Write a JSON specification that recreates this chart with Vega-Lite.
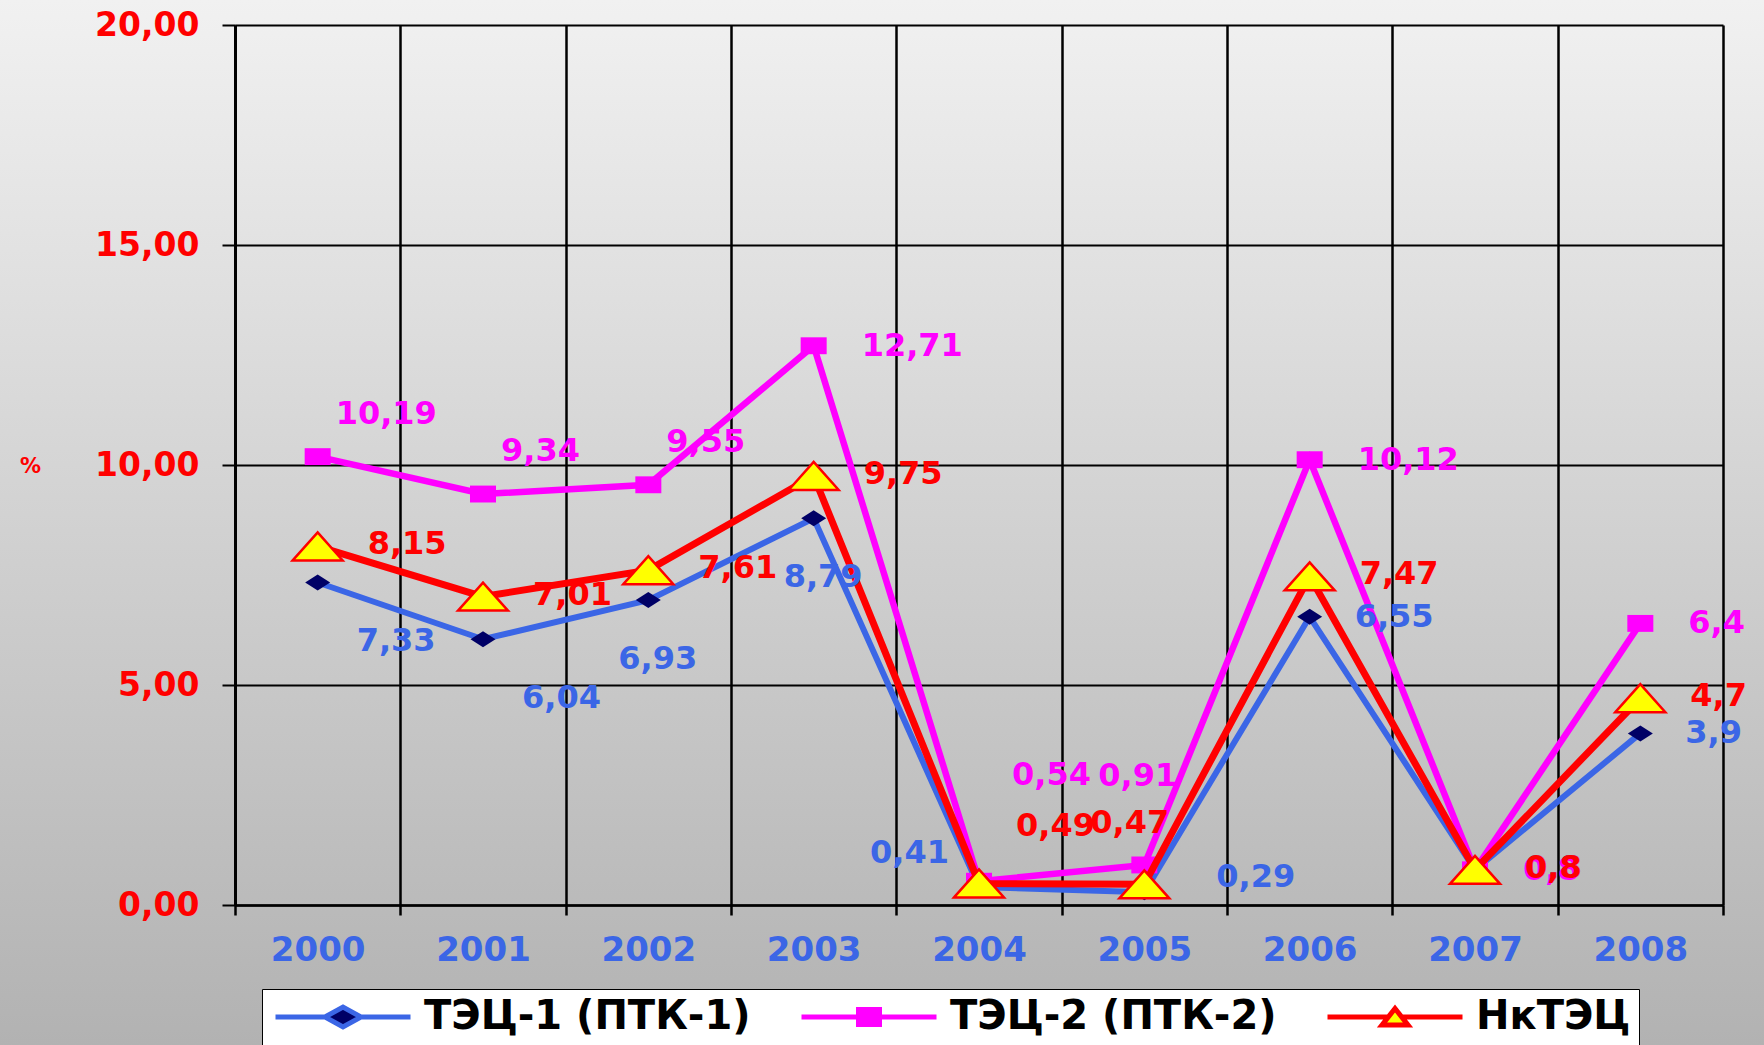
{
  "$schema": "https://vega.github.io/schema/vega-lite/v6.json",
  "width": 1764,
  "height": 1045,
  "autosize": {"type": "none"},
  "padding": 0,
  "background": "#d4d4d4",
  "config": {
    "view": {
      "stroke": null,
      "fill": {"gradient": "linear", "x1": 0, "y1": 0, "x2": 0, "y2": 1,
        "stops": [{"offset": 0, "color": "#f1f1f1"}, {"offset": 1, "color": "#b2b2b2"}]}
    }
  },
  "data": {
    "values": [
      {"year": "2000", "series": "ТЭЦ-1 (ПТК-1)", "value": 7.33},
      {"year": "2001", "series": "ТЭЦ-1 (ПТК-1)", "value": 6.04},
      {"year": "2002", "series": "ТЭЦ-1 (ПТК-1)", "value": 6.93},
      {"year": "2003", "series": "ТЭЦ-1 (ПТК-1)", "value": 8.79},
      {"year": "2004", "series": "ТЭЦ-1 (ПТК-1)", "value": 0.41},
      {"year": "2005", "series": "ТЭЦ-1 (ПТК-1)", "value": 0.29},
      {"year": "2006", "series": "ТЭЦ-1 (ПТК-1)", "value": 6.55},
      {"year": "2007", "series": "ТЭЦ-1 (ПТК-1)", "value": 0.8},
      {"year": "2008", "series": "ТЭЦ-1 (ПТК-1)", "value": 3.9},
      {"year": "2000", "series": "ТЭЦ-2 (ПТК-2)", "value": 10.19},
      {"year": "2001", "series": "ТЭЦ-2 (ПТК-2)", "value": 9.34},
      {"year": "2002", "series": "ТЭЦ-2 (ПТК-2)", "value": 9.55},
      {"year": "2003", "series": "ТЭЦ-2 (ПТК-2)", "value": 12.71},
      {"year": "2004", "series": "ТЭЦ-2 (ПТК-2)", "value": 0.54},
      {"year": "2005", "series": "ТЭЦ-2 (ПТК-2)", "value": 0.91},
      {"year": "2006", "series": "ТЭЦ-2 (ПТК-2)", "value": 10.12},
      {"year": "2007", "series": "ТЭЦ-2 (ПТК-2)", "value": 0.8},
      {"year": "2008", "series": "ТЭЦ-2 (ПТК-2)", "value": 6.4},
      {"year": "2000", "series": "НкТЭЦ", "value": 8.15},
      {"year": "2001", "series": "НкТЭЦ", "value": 7.01},
      {"year": "2002", "series": "НкТЭЦ", "value": 7.61},
      {"year": "2003", "series": "НкТЭЦ", "value": 9.75},
      {"year": "2004", "series": "НкТЭЦ", "value": 0.49},
      {"year": "2005", "series": "НкТЭЦ", "value": 0.47},
      {"year": "2006", "series": "НкТЭЦ", "value": 7.47},
      {"year": "2007", "series": "НкТЭЦ", "value": 0.8},
      {"year": "2008", "series": "НкТЭЦ", "value": 4.7}
    ]
  },
  "transform": [{"calculate": "replace(toString(datum.value), '.', ',')", "as": "label"}],
  "encoding": {
    "y": {
      "field": "value", "type": "quantitative",
      "scale": {"domain": [0, 20], "nice": false, "range": [905, 25]},
      "axis": {
        "title": "%", "offset": -235, "titleAngle": 0, "titleX": -205, "titleY": 466, "titleAlign": "center", "titleBaseline": "middle",
        "titleFont": "DejaVu Sans", "titleFontWeight": "bold", "titleFontSize": 21, "titleColor": "#ff0000",
        "values": [0, 5, 10, 15, 20],
        "labelExpr": "replace(format(datum.value, '.2f'), '.', ',')",
        "grid": true, "gridColor": "#000000", "gridWidth": 2, "gridOpacity": 1,
        "domainColor": "#000000", "domainWidth": 3, "tickColor": "#000000", "tickWidth": 2, "tickSize": 13,
        "labelFont": "DejaVu Sans", "labelFontWeight": "bold", "labelFontSize": 33, "labelColor": "#ff0000", "labelPadding": 23
      }
    }
  },
  "resolve": {"axis": {"x": "independent"}},
  "layer": [
    {
      "encoding": {
        "x": {
          "field": "year", "type": "ordinal", "bandPosition": 0.5,
          "scale": {"type": "band", "paddingInner": 0, "paddingOuter": 0, "range": [235, 1723]},
          "axis": {
            "orient": "bottom", "title": null, "offset": -140, "tickBand": "extent", "grid": false,
            "domainColor": "#000000", "domainWidth": 2.5, "tickColor": "#000000", "tickWidth": 2.5, "tickSize": 10,
            "labelAngle": 0, "labelFont": "DejaVu Sans", "labelFontWeight": "bold", "labelFontSize": 34,
            "labelColor": "#3b66e6", "labelPadding": 18
          }
        }
      },
      "layer": [
        {
          "transform": [{"filter": "datum.series === 'ТЭЦ-1 (ПТК-1)'"}],
          "mark": {"type": "line", "strokeWidth": 6},
          "encoding": {
            "color": {
              "field": "series", "type": "nominal",
              "scale": {"domain": ["ТЭЦ-1 (ПТК-1)", "ТЭЦ-2 (ПТК-2)", "НкТЭЦ"], "range": ["#3b66e6", "#ff00ff", "#ff0000"]},
              "legend": {
                "title": null, "orient": "none", "legendX": 262, "legendY": 989, "direction": "horizontal", "columns": 3,
                "padding": 8, "strokeColor": "#000000", "fillColor": "#ffffff", "cornerRadius": 0,
                "symbolSize": 400, "symbolStrokeWidth": 5, "symbolOffset": 53,
                "labelFont": "DejaVu Sans", "labelFontWeight": "bold", "labelFontSize": 40, "labelColor": "#000000",
                "labelOffset": 61, "labelLimit": 800, "columnPadding": 40,
                "encode": {
                  "symbols": {
                    "update": {
                      "shape": {"signal": "datum.value === 'ТЭЦ-1 (ПТК-1)' ? 'M -6.75 0 L -1.8 0 M 1.8 0 L 6.75 0 M -1.8 0 L 0 -1 L 1.8 0 L 0 1 Z' : datum.value === 'ТЭЦ-2 (ПТК-2)' ? 'M -6.75 0 L 6.75 0 M -1.05 -0.75 L 1.05 -0.75 L 1.05 0.75 L -1.05 0.75 Z' : 'M -6.75 0 L -0.67 0 M 0.67 0 L 6.75 0 M -1.3 0.8 L 0 -0.85 L 1.3 0.8 Z'"},
                      "fill": {"signal": "datum.value === 'ТЭЦ-1 (ПТК-1)' ? '#000066' : datum.value === 'ТЭЦ-2 (ПТК-2)' ? '#ff00ff' : '#ffff00'"},
                      "fillOpacity": {"value": 1}
                    }
                  }
                }
              }
            }
          }
        },
        {
          "transform": [{"filter": "datum.series === 'ТЭЦ-1 (ПТК-1)'"}],
          "mark": {"type": "point", "shape": "M -1 0 L 0 -0.64 L 1 0 L 0 0.64 Z", "filled": true, "fill": "#000066", "size": 625, "opacity": 1, "strokeWidth": 0}
        },
        {
          "transform": [{"filter": "datum.series === 'ТЭЦ-2 (ПТК-2)'"}],
          "mark": {"type": "line", "strokeWidth": 6.5},
          "encoding": {"color": {"field": "series", "type": "nominal"}}
        },
        {
          "transform": [{"filter": "datum.series === 'ТЭЦ-2 (ПТК-2)'"}],
          "mark": {"type": "point", "shape": "M -1 -0.65 L 1 -0.65 L 1 0.65 L -1 0.65 Z", "filled": true, "fill": "#ff00ff", "size": 676, "opacity": 1, "strokeWidth": 0}
        },
        {
          "transform": [{"filter": "datum.series === 'НкТЭЦ'"}],
          "mark": {"type": "line", "strokeWidth": 7},
          "encoding": {"color": {"field": "series", "type": "nominal"}}
        },
        {
          "transform": [{"filter": "datum.series === 'НкТЭЦ'"}],
          "mark": {"type": "point", "shape": "M -1 0.56 L 0 -0.56 L 1 0.56 Z", "filled": true, "fill": "#ffff00", "stroke": "#ff0000", "strokeWidth": 2.5, "size": 2500, "opacity": 1}
        },
        {
          "transform": [{"filter": "datum.series === 'ТЭЦ-1 (ПТК-1)' && indexof(['2000','2001'], datum.year) >= 0"}],
          "mark": {"type": "text", "align": "left", "baseline": "middle", "dx": 39, "dy": 59, "font": "DejaVu Sans", "fontWeight": "bold", "fontSize": 32, "fill": "#3b66e6"},
          "encoding": {"text": {"field": "label"}}
        },
        {
          "transform": [{"filter": "datum.series === 'ТЭЦ-1 (ПТК-1)' && indexof(['2002','2003'], datum.year) >= 0"}],
          "mark": {"type": "text", "align": "left", "baseline": "middle", "dx": -30, "dy": 59, "font": "DejaVu Sans", "fontWeight": "bold", "fontSize": 32, "fill": "#3b66e6"},
          "encoding": {"text": {"field": "label"}}
        },
        {
          "transform": [{"filter": "datum.series === 'ТЭЦ-1 (ПТК-1)' && datum.year === '2004'"}],
          "mark": {"type": "text", "align": "left", "baseline": "middle", "dx": -109, "dy": -34, "font": "DejaVu Sans", "fontWeight": "bold", "fontSize": 32, "fill": "#3b66e6"},
          "encoding": {"text": {"field": "label"}}
        },
        {
          "transform": [{"filter": "datum.series === 'ТЭЦ-1 (ПТК-1)' && datum.year === '2005'"}],
          "mark": {"type": "text", "align": "left", "baseline": "middle", "dx": 72, "dy": -15, "font": "DejaVu Sans", "fontWeight": "bold", "fontSize": 32, "fill": "#3b66e6"},
          "encoding": {"text": {"field": "label"}}
        },
        {
          "transform": [{"filter": "datum.series === 'ТЭЦ-1 (ПТК-1)' && indexof(['2006','2008'], datum.year) >= 0"}],
          "mark": {"type": "text", "align": "left", "baseline": "middle", "dx": 45, "dy": 0, "font": "DejaVu Sans", "fontWeight": "bold", "fontSize": 32, "fill": "#3b66e6"},
          "encoding": {"text": {"field": "label"}}
        },
        {
          "transform": [{"filter": "datum.series === 'ТЭЦ-1 (ПТК-1)' && datum.year === '2007'"}],
          "mark": {"type": "text", "align": "left", "baseline": "middle", "dx": 50, "dy": -2, "font": "DejaVu Sans", "fontWeight": "bold", "fontSize": 32, "fill": "#3b66e6"},
          "encoding": {"text": {"field": "label"}}
        },
        {
          "transform": [{"filter": "datum.series === 'ТЭЦ-2 (ПТК-2)' && indexof(['2000','2001','2002'], datum.year) >= 0"}],
          "mark": {"type": "text", "align": "left", "baseline": "middle", "dx": 18, "dy": -43, "font": "DejaVu Sans", "fontWeight": "bold", "fontSize": 32, "fill": "#ff00ff"},
          "encoding": {"text": {"field": "label"}}
        },
        {
          "transform": [{"filter": "datum.series === 'ТЭЦ-2 (ПТК-2)' && indexof(['2003','2006','2007','2008'], datum.year) >= 0"}],
          "mark": {"type": "text", "align": "left", "baseline": "middle", "dx": 48, "dy": 0, "font": "DejaVu Sans", "fontWeight": "bold", "fontSize": 32, "fill": "#ff00ff"},
          "encoding": {"text": {"field": "label"}}
        },
        {
          "transform": [{"filter": "datum.series === 'ТЭЦ-2 (ПТК-2)' && datum.year === '2004'"}],
          "mark": {"type": "text", "align": "left", "baseline": "middle", "dx": 33, "dy": -106, "font": "DejaVu Sans", "fontWeight": "bold", "fontSize": 32, "fill": "#ff00ff"},
          "encoding": {"text": {"field": "label"}}
        },
        {
          "transform": [{"filter": "datum.series === 'ТЭЦ-2 (ПТК-2)' && datum.year === '2005'"}],
          "mark": {"type": "text", "align": "left", "baseline": "middle", "dx": -46, "dy": -89, "font": "DejaVu Sans", "fontWeight": "bold", "fontSize": 32, "fill": "#ff00ff"},
          "encoding": {"text": {"field": "label"}}
        },
        {
          "transform": [{"filter": "datum.series === 'НкТЭЦ' && indexof(['2004','2005'], datum.year) < 0"}],
          "mark": {"type": "text", "align": "left", "baseline": "middle", "dx": 50, "dy": -2, "font": "DejaVu Sans", "fontWeight": "bold", "fontSize": 32, "fill": "#ff0000"},
          "encoding": {"text": {"field": "label"}}
        },
        {
          "transform": [{"filter": "datum.series === 'НкТЭЦ' && datum.year === '2004'"}],
          "mark": {"type": "text", "align": "left", "baseline": "middle", "dx": 37, "dy": -57, "font": "DejaVu Sans", "fontWeight": "bold", "fontSize": 32, "fill": "#ff0000"},
          "encoding": {"text": {"field": "label"}}
        }
      ]
    },
    {
      "transform": [{"filter": "datum.series === 'НкТЭЦ' && datum.year === '2005'"}],
      "mark": {"type": "text", "align": "left", "baseline": "middle", "dx": -54, "dy": -61, "font": "DejaVu Sans", "fontWeight": "bold", "fontSize": 32, "fill": "#ff0000"},
      "encoding": {
        "x": {
          "field": "year", "type": "ordinal", "bandPosition": 0.5,
          "axis": {
            "orient": "top", "title": null, "tickBand": "extent", "grid": true, "gridColor": "#000000", "gridWidth": 2.5, "gridOpacity": 1,
            "labels": false, "ticks": false, "domain": false
          }
        },
        "text": {"field": "label"}
      }
    }
  ]
}
